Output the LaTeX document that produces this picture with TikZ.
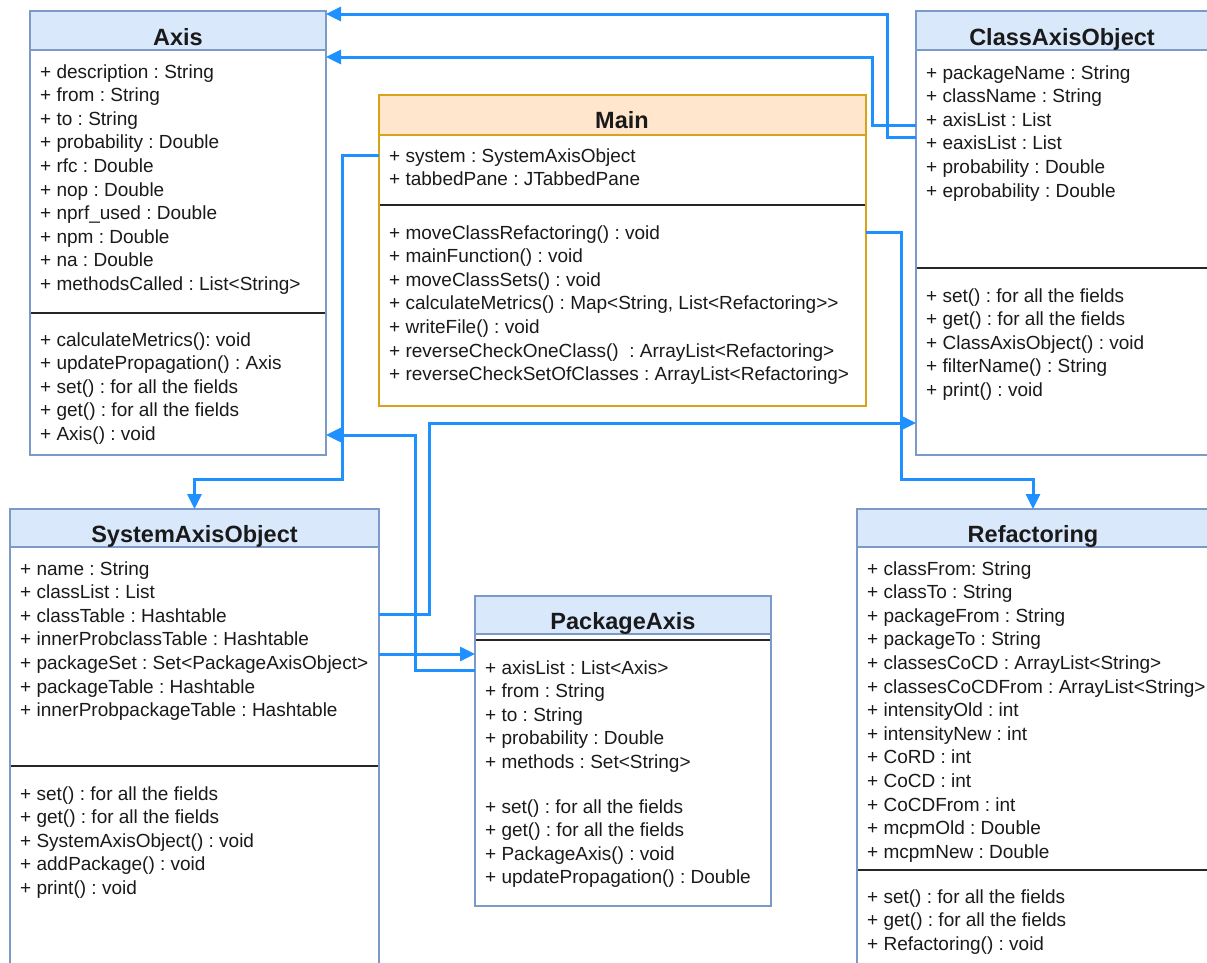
\documentclass[tikz,border=0pt]{standalone}
\usepackage{fontspec}
\setmainfont{Liberation Sans}
\usetikzlibrary{arrows.meta}

\definecolor{umlborder}{HTML}{7C9AC8}
\definecolor{umlhead}{HTML}{DAE8FC}
\definecolor{mainborder}{HTML}{D9A21B}
\definecolor{mainfill}{HTML}{FFE6CC}
\definecolor{link}{HTML}{1E90FF}
\definecolor{ink}{HTML}{1A1A1A}

\tikzset{
  classbox/.style={draw=umlborder, fill=white, line width=2.6pt, anchor=north west,
                   inner sep=0pt, outer sep=0pt},
  headbox/.style={classbox, fill=umlhead},
  mainbox/.style={classbox, draw=mainborder},
  mainheadbox/.style={mainbox, fill=mainfill},
  title/.style={font=\fontsize{23.5}{28}\selectfont\bfseries, text=ink, inner sep=0pt, anchor=base},
  member/.style={font=\frenchspacing\fontsize{19}{23}\selectfont, text=ink, anchor=base west, inner sep=0pt},
  divider/.style={draw=black!85, line width=1.4pt, shorten >=1.3pt, shorten <=1.3pt},
  conn/.style={draw=link, line width=3pt, -{Triangle[length=15pt,width=14pt]}},
}

% one compartment row per item, 23.6 units apart
\newcommand\memberlist[4]{%
  \foreach \txt [count=\k] in {#4}
    \node[member] (#1\k) at ({#2}, {#3+7+23.6*(\k-1)}) {\txt};
}

\begin{document}
\begin{tikzpicture}[x=1pt, y=-1pt]
\useasboundingbox (0,0) rectangle (1207,962);
\clip (0,0) rectangle (1207,962);
\fill[white] (0,0) rectangle (1207,962);

% ---------------- Axis ----------------
\node[classbox, minimum width=296pt, minimum height=444pt] (axis) at (30,11) {};
\node[headbox, minimum width=296pt, minimum height=39pt] (axisH) at (30,11) {};
\node[title] (axisT) at (178,45) {Axis};
\draw[divider] (axis.west |- 0,313) -- (axis.east |- 0,313);
\memberlist{axA}{40}{71}{
  {+ description : String},
  {+ from : String},
  {+ to : String},
  {+ probability : Double},
  {+ rfc : Double},
  {+ nop : Double},
  {+ nprf\_used : Double},
  {+ npm : Double},
  {+ na : Double},
  {+ methodsCalled : List<String>}}
\memberlist{axM}{40}{339}{
  {+ calculateMetrics(): void},
  {+ updatePropagation() : Axis},
  {+ set() : for all the fields},
  {+ get() : for all the fields},
  {+ Axis() : void}}

% ---------------- Main ----------------
\node[mainbox, minimum width=487pt, minimum height=311pt] (main) at (379,95) {};
\node[mainheadbox, minimum width=487pt, minimum height=40pt] (mainH) at (379,95) {};
\node[title] (mainT) at (622,128.5) {Main};
\draw[divider] (main.west |- 0,205) -- (main.east |- 0,205);
\memberlist{mnA}{389}{155}{
  {+ system : SystemAxisObject},
  {+ tabbedPane : JTabbedPane}}
\memberlist{mnM}{389}{232}{
  {+ moveClassRefactoring() : void},
  {+ mainFunction() : void},
  {+ moveClassSets() : void},
  {+ calculateMetrics() : Map<String, List<Refactoring>{}>},
  {+ writeFile() : void},
  {+ reverseCheckOneClass()\ \ : ArrayList<Refactoring>},
  {+ reverseCheckSetOfClasses : ArrayList<Refactoring>}}

% ---------------- ClassAxisObject ----------------
\node[classbox, minimum width=293pt, minimum height=444pt] (cao) at (916,11) {};
\node[headbox, minimum width=293pt, minimum height=39pt] (caoH) at (916,11) {};
\node[title] (caoT) at (1062,45) {ClassAxisObject};
\draw[divider] (cao.west |- 0,268) -- (cao.east |- 0,268);
\memberlist{caA}{926}{72}{
  {+ packageName : String},
  {+ className : String},
  {+ axisList : List},
  {+ eaxisList : List},
  {+ probability : Double},
  {+ eprobability : Double}}
\memberlist{caM}{926}{295}{
  {+ set() : for all the fields},
  {+ get() : for all the fields},
  {+ ClassAxisObject() : void},
  {+ filterName() : String},
  {+ print() : void}}

% ---------------- SystemAxisObject ----------------
\node[classbox, minimum width=369pt, minimum height=470pt] (sao) at (10,509) {};
\node[headbox, minimum width=369pt, minimum height=38pt] (saoH) at (10,509) {};
\node[title] (saoT) at (194.5,542.5) {SystemAxisObject};
\draw[divider] (sao.west |- 0,766) -- (sao.east |- 0,766);
\memberlist{saA}{20}{568}{
  {+ name : String},
  {+ classList : List},
  {+ classTable : Hashtable},
  {+ innerProbclassTable : Hashtable},
  {+ packageSet : Set<PackageAxisObject>},
  {+ packageTable : Hashtable},
  {+ innerProbpackageTable : Hashtable}}
\memberlist{saM}{20}{793}{
  {+ set() : for all the fields},
  {+ get() : for all the fields},
  {+ SystemAxisObject() : void},
  {+ addPackage() : void},
  {+ print() : void}}

% ---------------- PackageAxis ----------------
\node[classbox, minimum width=296pt, minimum height=310pt] (pa) at (475,596) {};
\node[headbox, minimum width=296pt, minimum height=38pt] (paH) at (475,596) {};
\node[title] (paT) at (623,629.5) {PackageAxis};
\draw[divider] (pa.west |- 0,640) -- (pa.east |- 0,640);
\memberlist{paA}{485}{667}{
  {+ axisList : List<Axis>},
  {+ from : String},
  {+ to : String},
  {+ probability : Double},
  {+ methods : Set<String>}}
\memberlist{paM}{485}{806}{
  {+ set() : for all the fields},
  {+ get() : for all the fields},
  {+ PackageAxis() : void},
  {+ updatePropagation() : Double}}

% ---------------- Refactoring ----------------
\node[classbox, minimum width=352pt, minimum height=470pt] (ref) at (857,509) {};
\node[headbox, minimum width=352pt, minimum height=38pt] (refH) at (857,509) {};
\node[title] (refT) at (1033,542.5) {Refactoring};
\draw[divider] (ref.west |- 0,870) -- (ref.east |- 0,870);
\memberlist{rfA}{867}{568}{
  {+ classFrom: String},
  {+ classTo : String},
  {+ packageFrom : String},
  {+ packageTo : String},
  {+ classesCoCD : ArrayList<String>},
  {+ classesCoCDFrom : ArrayList<String>},
  {+ intensityOld : int},
  {+ intensityNew : int},
  {+ CoRD : int},
  {+ CoCD : int},
  {+ CoCDFrom : int},
  {+ mcpmOld : Double},
  {+ mcpmNew : Double}}
\memberlist{rfM}{867}{896}{
  {+ set() : for all the fields},
  {+ get() : for all the fields},
  {+ Refactoring() : void}}

% ---------------- associations ----------------
\draw[conn] (cao.west |- 0,137) -| (887,14) -- (axis.east |- 0,14);
\draw[conn] (cao.west |- 0,125) -| (872,57) -- (axis.east |- 0,57);
\draw[conn] (main.west |- 0,155) -| (342,479) -| (sao.north);
\draw[conn] (pa.west |- 0,670) -| (415,435) -- (axis.east |- 0,435);
\draw[conn] (sao.east |- 0,614) -| (429,423) -- (cao.west |- 0,423);
\draw[conn] (sao.east |- 0,654) -- (pa.west |- 0,654);
\draw[conn] (main.east |- 0,232) -| (901,479) -| (ref.north);
\end{tikzpicture}
\end{document}
